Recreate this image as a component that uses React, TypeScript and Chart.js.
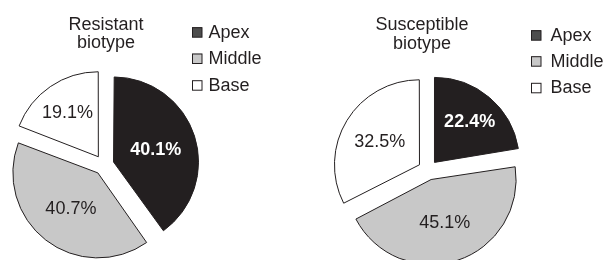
import React, { useEffect, useRef } from 'react';
import { Chart, registerables } from 'chart.js';

Chart.register(...registerables);

// ---- data ----
const categories = ['Apex', 'Middle', 'Base'];
const resistantValues = [40.1, 40.7, 19.1];
const susceptibleValues = [22.4, 45.1, 32.5];
const resistantTitle = ['Resistant', 'biotype'];
const susceptibleTitle = ['Susceptible', 'biotype'];

// ---- styles ----
const sliceColors = ['#231f20', '#c8c8c8', '#ffffff'];
const legendColors = ['#4d4d4d', '#c8c8c8', '#ffffff'];
const labelColors = ['#ffffff', '#231f20', '#231f20'];
const labelWeights = ['bold', 'normal', 'normal'];
const inkColor = '#231f20';
const FONT = '"Liberation Sans", Arial, Helvetica, sans-serif';
const RADIUS = 85;
const OFFSET = 40;

type Layout = {
  left: number;
  width: number;
  height: number;
  padRight: number;
  padBottom: number;
  titleX: number;
  titleBaselines: number[];
  legendBoxX: number;
  legendTextX: number;
  legendBaselines: number[];
  labelRatios: number[];
};

const leftLayout: Layout = {
  left: 0,
  width: 304,
  height: 340,
  padRight: 96,
  padBottom: 10,
  titleX: 106,
  titleBaselines: [29.5, 48],
  legendBoxX: 192,
  legendTextX: 208.5,
  legendBaselines: [37.7, 64, 90.7],
  labelRatios: [0.64, 0.635, 0.76],
};

const rightLayout: Layout = {
  left: 304,
  width: 304,
  height: 350,
  padRight: 56,
  padBottom: 10,
  titleX: 118,
  titleBaselines: [30, 49],
  legendBoxX: 227,
  legendTextX: 246.5,
  legendBaselines: [40.7, 66.7, 93.3],
  labelRatios: [0.757, 0.635, 0.666],
};

function PieBlock({ values, title, layout }: { values: number[]; title: string[]; layout: Layout }) {
  const ref = useRef<HTMLCanvasElement>(null);

  useEffect(() => {
    const canvas = ref.current;
    if (!canvas) return;

    const decor = {
      id: 'decor',
      afterDatasetUpdate(chart: any) {
        // keep every exploded slice at the same visible radius
        const meta = chart.getDatasetMeta(0);
        meta.data.forEach((arc: any) => {
          const fix = 1 - Math.sin(Math.min(Math.PI, arc.circumference || 0));
          arc.outerRadius = RADIUS - (OFFSET / 4) * fix;
        });
      },
      afterDatasetsDraw(chart: any) {
        const ctx = chart.ctx as CanvasRenderingContext2D;
        const meta = chart.getDatasetMeta(0);
        ctx.save();
        // slice labels
        meta.data.forEach((arc: any, i: number) => {
          const p = arc.getProps(['x', 'y', 'startAngle', 'endAngle'], true);
          const mid = (p.startAngle + p.endAngle) / 2;
          const r = RADIUS * layout.labelRatios[i];
          const lx = p.x + Math.cos(mid) * r;
          const ly = p.y + Math.sin(mid) * r;
          ctx.font = `${labelWeights[i]} 18px ${FONT}`;
          ctx.fillStyle = labelColors[i];
          ctx.textAlign = 'center';
          ctx.textBaseline = 'alphabetic';
          ctx.fillText(values[i].toFixed(1) + '%', lx, ly + 6.4);
        });
        // title
        ctx.font = `18px ${FONT}`;
        ctx.fillStyle = inkColor;
        ctx.textAlign = 'center';
        title.forEach((t, i) => ctx.fillText(t, layout.titleX, layout.titleBaselines[i]));
        // legend
        ctx.font = `18px ${FONT}`;
        ctx.textAlign = 'left';
        categories.forEach((c, i) => {
          const b = layout.legendBaselines[i];
          const bx = layout.legendBoxX;
          const by = b - 10.5;
          ctx.fillStyle = legendColors[i];
          ctx.fillRect(bx, by, 10, 10);
          ctx.strokeStyle = inkColor;
          ctx.lineWidth = 1;
          ctx.strokeRect(bx + 0.5, by + 0.5, 9.5, 9.5);
          ctx.fillStyle = inkColor;
          ctx.fillText(c, layout.legendTextX, b);
        });
        ctx.restore();
      },
    };

    const chart = new Chart(canvas, {
      type: 'pie',
      data: {
        labels: categories,
        datasets: [
          {
            data: values,
            backgroundColor: sliceColors,
            borderColor: inkColor,
            borderWidth: 1,
            offset: OFFSET,
            radius: RADIUS,
          } as any,
        ],
      },
      options: {
        responsive: false,
        animation: false,
        events: [],
        radius: RADIUS,
        layout: { padding: { left: 0, top: 0, right: layout.padRight, bottom: layout.padBottom } },
        plugins: {
          legend: { display: false },
          tooltip: { enabled: false },
          title: { display: false },
        },
      } as any,
      plugins: [decor],
    });
    return () => chart.destroy();
  }, [values, title, layout]);

  return (
    <canvas
      ref={ref}
      width={layout.width}
      height={layout.height}
      style={{ position: 'absolute', left: layout.left, top: 0, width: layout.width, height: layout.height }}
    />
  );
}

export default function App() {
  useEffect(() => {
    document.body.style.margin = '0';
  }, []);
  return (
    <div style={{ position: 'relative', width: 608, height: 260, overflow: 'hidden', background: '#fff' }}>
      <PieBlock values={resistantValues} title={resistantTitle} layout={leftLayout} />
      <PieBlock values={susceptibleValues} title={susceptibleTitle} layout={rightLayout} />
    </div>
  );
}
